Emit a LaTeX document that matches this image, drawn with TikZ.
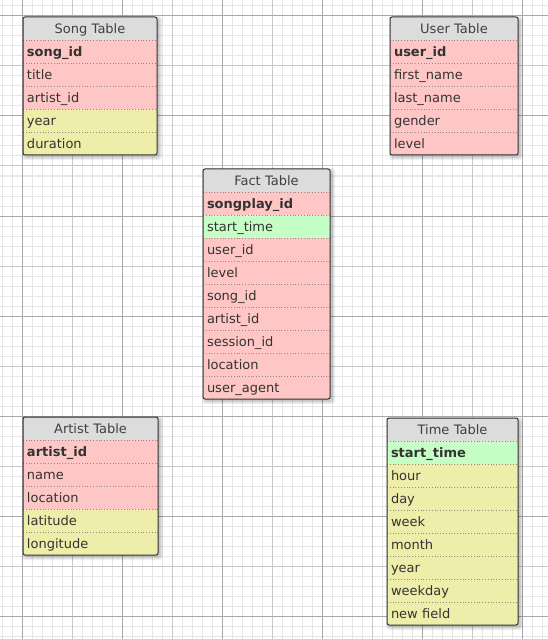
\documentclass[tikz,border=0pt]{standalone}
\usepackage{fontspec}
\setmainfont{DejaVu Sans}
\usetikzlibrary{fit}
\definecolor{gridminor}{HTML}{E6E6E6}
\definecolor{gridmid}{HTML}{C8C8C8}
\definecolor{gridmajor}{HTML}{A8A8A8}
\definecolor{hdrc}{HTML}{DCDCDC}
\definecolor{pinkc}{HTML}{FFC6C6}
\definecolor{ylc}{HTML}{EEEEAA}
\definecolor{grc}{HTML}{C6FFC6}
\definecolor{txtc}{HTML}{333333}
\definecolor{framec}{HTML}{333333}
\newcommand\rowfont{\fontsize{13pt}{15pt}\selectfont}
\tikzset{
  cellbase/.style={anchor=north west, minimum height=23pt, inner xsep=4pt, inner ysep=0pt,
    outer sep=0pt, text height=11pt, text depth=1pt, text=txtc, font=\rowfont},
  hdr/.style={cellbase, fill=hdrc, align=center, text=black!75},
  pk/.style={fill=pinkc},
  pkb/.style={fill=pinkc, font=\rowfont\bfseries},
  yl/.style={fill=ylc},
  gr/.style={fill=grc},
  grb/.style={fill=grc, font=\rowfont\bfseries},
  sepline/.style={draw=black!45, dotted, line width=0.8pt},
  frame/.style={draw=framec, line width=1pt, rounded corners=2pt, inner sep=0pt},
  minorline/.style={draw=gridminor, line width=1pt},
  midline/.style={draw=gridmid, line width=1pt},
  majorline/.style={draw=gridmajor, line width=1pt},
}
% #1 name, #2 x, #3 y, #4 width, #5 title, #6 number of rows, #7 rows
\newcommand\erdtable[7]{%
  \pgfmathsetmacro\tblw{#4-8}%
  \pgfmathsetmacro\tblh{23*(#6+1)}%
  \foreach \g in {0,1,2,3}{
    \fill[black, opacity=0.06, rounded corners=3pt]
      ({#2+2-\g},{#3+2-\g}) rectangle ({#2+#4+2+\g},{#3+\tblh+2+\g});
  }
  \node[hdr, text width=\tblw pt] (#1-h) at (#2,#3) {#5};
  \foreach \st/\tx [count=\i] in {#7}{
    \node[cellbase, \st, text width=\tblw pt, align=left] (#1-\i) at ({#2},{#3+23*\i}) {\tx};
    \draw[sepline] (#1-\i.north west) -- (#1-\i.north east);
  }
  \node[frame, fit=(#1-h)(#1-#6)] (#1) {};
}
\begin{document}
\begin{tikzpicture}[x=1pt, y=-1pt]
\useasboundingbox (0,0) rectangle (548,639);
\fill[white] (0,0) rectangle (548,639);
\foreach \x in {2,12,...,542} \draw[minorline] (\x,0) -- (\x,639);
\foreach \y in {6,16,...,636} \draw[minorline] (0,\y) -- (548,\y);
\foreach \x in {72,172,...,472} \draw[midline] (\x,0) -- (\x,639);
\foreach \y in {66,166,...,566} \draw[midline] (0,\y) -- (548,\y);
\foreach \x in {22,122,...,522} \draw[majorline] (\x,0) -- (\x,639);
\foreach \y in {16,116,...,616} \draw[majorline] (0,\y) -- (548,\y);

\erdtable{song}{23}{17}{134}{Song Table}{5}{pkb/song\_id, pk/title, pk/artist\_id, yl/year, yl/duration}
\erdtable{user}{390}{17}{128}{User Table}{5}{pkb/user\_id, pk/first\_name, pk/last\_name, pk/gender, pk/level}
\erdtable{fact}{203}{169}{127}{Fact Table}{9}{pkb/songplay\_id, gr/start\_time, pk/user\_id, pk/level, pk/song\_id, pk/artist\_id, pk/session\_id, pk/location, pk/user\_agent}
\erdtable{artist}{23}{417}{135}{Artist Table}{5}{pkb/artist\_id, pk/name, pk/location, yl/latitude, yl/longitude}
\erdtable{time}{387}{418}{131}{Time Table}{8}{grb/start\_time, yl/hour, yl/day, yl/week, yl/month, yl/year, yl/weekday, yl/new field}
\end{tikzpicture}
\end{document}
